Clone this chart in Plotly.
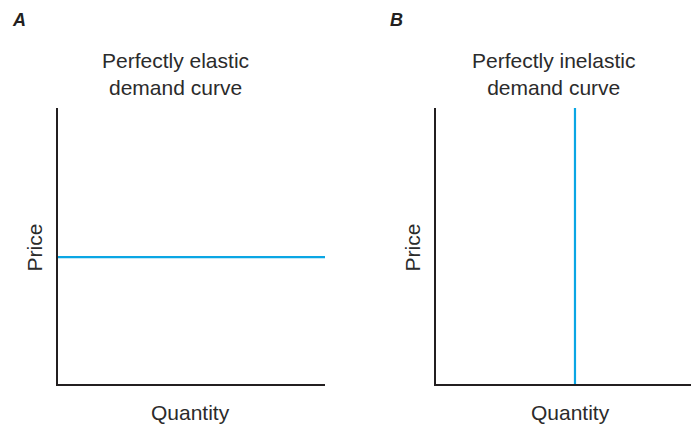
import plotly.graph_objects as go

W, H = 691, 425

# Data
elastic_quantity = [0, 10]
elastic_price = [4.6, 4.6]
inelastic_quantity = [5.45, 5.45]
inelastic_price = [0, 10]

panel_labels = ["A", "B"]
panel_titles = ["Perfectly elastic<br>demand curve", "Perfectly inelastic<br>demand curve"]
x_title = "Quantity"
y_title = "Price"

BLUE = "#0aa6e4"
INK = "#231f20"
TXT = "#2b2b2b"
FONT = "Liberation Sans, Arial, Helvetica, sans-serif"

def px(x):
    return x / W

def py(y):
    return (H - y) / H

fig = go.Figure()
fig.add_trace(go.Scatter(x=elastic_quantity, y=elastic_price, mode="lines",
                         line=dict(color=BLUE, width=2.2), xaxis="x", yaxis="y",
                         showlegend=False, hoverinfo="skip"))
fig.add_trace(go.Scatter(x=inelastic_quantity, y=inelastic_price, mode="lines",
                         line=dict(color=BLUE, width=2.2), xaxis="x2", yaxis="y2",
                         showlegend=False, hoverinfo="skip"))

ax_common = dict(range=[0, 10], showline=True, linecolor=INK, linewidth=2,
                 showgrid=False, zeroline=False, showticklabels=False, ticks="",
                 fixedrange=True)

y_dom = [py(384), py(108)]
fig.update_layout(
    width=W, height=H, autosize=False,
    margin=dict(l=0, r=0, t=0, b=0),
    paper_bgcolor="white", plot_bgcolor="white",
    xaxis=dict(domain=[px(58), px(325)], anchor="y", **ax_common),
    yaxis=dict(domain=y_dom, anchor="x", **ax_common),
    xaxis2=dict(domain=[px(436), 1.0], anchor="y2", **ax_common),
    yaxis2=dict(domain=y_dom, anchor="x2", **ax_common),
    font=dict(family=FONT, color=INK),
)

annotations = []
panel_pos = [
    dict(label=(19, 20), title=(176, 73.5), price=(33.5, 248), qty=(191, 412)),
    dict(label=(396, 20), title=(553, 73.5), price=(411.5, 248), qty=(570, 412)),
]
for i, p in enumerate(panel_pos):
    annotations.append(dict(text="<b><i>%s</i></b>" % panel_labels[i], x=px(p["label"][0]), y=py(p["label"][1]),
                            xref="paper", yref="paper", showarrow=False,
                            xanchor="center", yanchor="middle",
                            font=dict(size=18, family=FONT, color=INK)))
    annotations.append(dict(text=panel_titles[i], x=px(p["title"][0]), y=py(p["title"][1]),
                            xref="paper", yref="paper", showarrow=False,
                            xanchor="center", yanchor="middle", align="center",
                            font=dict(size=21, family=FONT, color=TXT)))
    annotations.append(dict(text=y_title, x=px(p["price"][0]), y=py(p["price"][1]),
                            xref="paper", yref="paper", showarrow=False, textangle=-90,
                            xanchor="center", yanchor="middle",
                            font=dict(size=21, family=FONT, color=TXT)))
    annotations.append(dict(text=x_title, x=px(p["qty"][0]), y=py(p["qty"][1]),
                            xref="paper", yref="paper", showarrow=False,
                            xanchor="center", yanchor="middle",
                            font=dict(size=21, family=FONT, color=TXT)))
fig.update_layout(annotations=annotations)

fig.write_html("out.html", config={"displayModeBar": False},
               post_script="document.body.style.margin='0';document.body.style.padding='0';document.body.style.overflow='hidden';")
